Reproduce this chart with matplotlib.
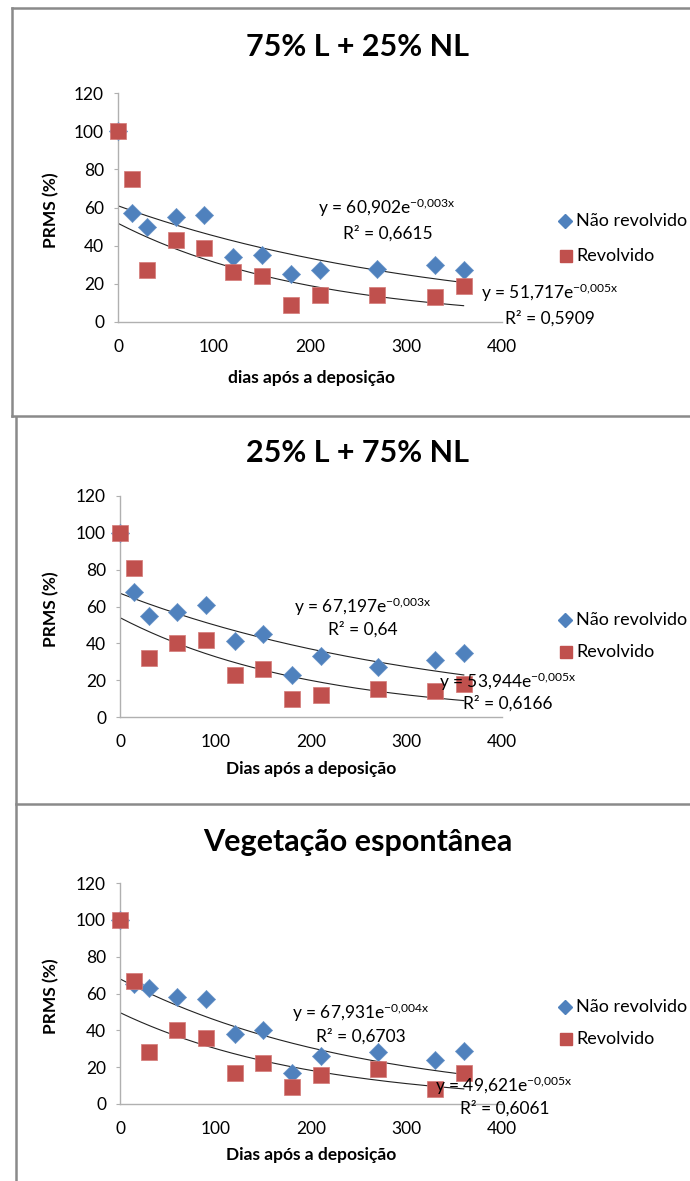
import numpy as np
import matplotlib.pyplot as plt
from matplotlib.lines import Line2D

plt.rcParams['font.family'] = ['Lato', 'DejaVu Sans']
plt.rcParams['mathtext.default'] = 'regular'

# dias após a deposição
dias = [0, 15, 30, 60, 90, 120, 150, 180, 210, 270, 330, 360]

# 75% L + 25% NL
p1_nao = [100, 57, 50, 55, 56, 34, 35, 25, 27, 28, 30, 27]
p1_rev = [100, 75, 27, 43, 39, 26, 24, 9, 14, 14, 13, 19]
# 25% L + 75% NL
p2_nao = [100, 68, 55, 57, 61, 41, 45, 23, 33, 27, 31, 35]
p2_rev = [100, 81, 32, 40, 42, 23, 26, 10, 12, 15, 14, 18]
# Vegetação espontânea
p3_nao = [100, 65, 63, 58, 57, 38, 40, 17, 26, 28, 24, 29]
p3_rev = [100, 67, 28, 40, 36, 17, 22, 9, 16, 19, 8, 17]

titles = ['75% L + 25% NL', '25% L + 75% NL', 'Vegetação espontânea']
xlabels = ['dias após a deposição', 'Dias após a deposição', 'Dias após a deposição']
# coeficientes das linhas de tendência exponenciais (a, b, R²)
trend_nao = [(60.902, -0.003, '0,6615'), (67.197, -0.003, '0,64'), (67.931, -0.004, '0,6703')]
trend_rev = [(51.717, -0.005, '0,5909'), (53.944, -0.005, '0,6166'), (49.621, -0.005, '0,6061')]

blue = '#4F81BD'
red = '#C0504D'

W, H = 690, 1181
fig = plt.figure(figsize=(6.9, 11.81), dpi=100)


def fx(px):
    return px / W


def fy(py):
    return 1 - py / H


# bordas dos painéis
border = dict(color='#8a8a8a', lw=1.8, transform=fig.transFigure)
fig.add_artist(Line2D([fx(12), fx(12)], [fy(8), fy(416)], **border))
fig.add_artist(Line2D([fx(12), 1], [fy(8), fy(8)], **border))
fig.add_artist(Line2D([fx(12), 1], [fy(416), fy(416)], **border))
fig.add_artist(Line2D([fx(16), fx(16)], [fy(417), 0], **border))
fig.add_artist(Line2D([fx(16), 1], [fy(804), fy(804)], **border))

# posições: (x0 px, x400 px, y0 px, y120 px, título y, xlabel y, legenda y1, y2)
layout = [
    (118, 502, 322, 93, 47, 378, 221, 256),
    (120, 502, 717, 496, 453, 769, 620, 652),
    (120, 502, 1104, 883, 842, 1155, 1007, 1039),
]
# posições das equações (x centro px, y px) para eq e R²
eq_pos = [
    ((387, 208), (388, 233), (550, 293), (550, 318)),
    ((363, 607), (363, 629), (508, 682), (508, 703)),
    ((361, 1013), (361, 1036), (504, 1086), (505, 1108)),
]
series = [(p1_nao, p1_rev), (p2_nao, p2_rev), (p3_nao, p3_rev)]

for i in range(3):
    x0, x4, y0, y12, ty, xly, l1, l2 = layout[i]
    ax = fig.add_axes([fx(x0), fy(y0), fx(x4 - x0), (y0 - y12) / H])
    nao, rev = series[i]

    xs = np.linspace(0, 360, 200)
    for a, b, _ in (trend_nao[i], trend_rev[i]):
        ax.plot(xs, a * np.exp(b * xs), color='#222222', lw=0.8, zorder=2)

    ax.scatter(dias, nao, marker='D', s=85, color=blue, edgecolors='#6b95c8',
               linewidths=0.5, zorder=3, clip_on=False)
    ax.scatter(dias, rev, marker='s', s=125, color=red, edgecolors='#d47a78',
               linewidths=0.5, zorder=4, clip_on=False)

    ax.set_xlim(0, 400)
    ax.set_ylim(0, 120)
    ax.set_xticks([0, 100, 200, 300, 400])
    ax.set_yticks([0, 20, 40, 60, 80, 100, 120])
    for s in ['top', 'right']:
        ax.spines[s].set_visible(False)
    for s in ['left', 'bottom']:
        ax.spines[s].set_color('#b0b0b0')
        ax.spines[s].set_linewidth(1)
    ax.tick_params(axis='y', length=3, color='#b0b0b0', labelsize=12.5, pad=7)
    ax.tick_params(axis='x', length=0, labelsize=12.5, pad=12)
    ax.patch.set_alpha(0)

    fig.text(fx(358), fy(ty), titles[i], ha='center', va='center',
             fontsize=22, fontweight='bold')
    fig.text(fx(311), fy(xly), xlabels[i], ha='center', va='center',
             fontsize=12.5, fontweight='bold')
    fig.text(fx(51), fy((y0 + y12) / 2 + 3), 'PRMS (%)', ha='center', va='center',
             rotation=90, fontsize=12.5, fontweight='bold')

    # legenda
    fig.add_artist(Line2D([fx(565)], [fy(l1)], marker='D', ms=7, color=blue,
                          transform=fig.transFigure))
    fig.add_artist(Line2D([fx(566)], [fy(l2)], marker='s', ms=9, color=red,
                          transform=fig.transFigure))
    fig.text(fx(576), fy(l1), 'Não revolvido', va='center', fontsize=13)
    fig.text(fx(576), fy(l2), 'Revolvido', va='center', fontsize=13)

    # equações
    pe = eq_pos[i]
    for (a, b, r2), (pa, pb) in ((trend_nao[i], (pe[0], pe[1])), (trend_rev[i], (pe[2], pe[3]))):
        a_s = f'{a:.3f}'.replace('.', ',')
        b_s = f'{b:.3f}'.replace('.', '{,}')
        fig.text(fx(pa[0]), fy(pa[1]), f'y = {a_s}e$^{{{b_s}x}}$', ha='center',
                 va='center', fontsize=12.5)
        fig.text(fx(pb[0]), fy(pb[1]), f'R² = {r2}', ha='center', va='center',
                 fontsize=12.5)

fig.savefig('out.png', dpi=100)
